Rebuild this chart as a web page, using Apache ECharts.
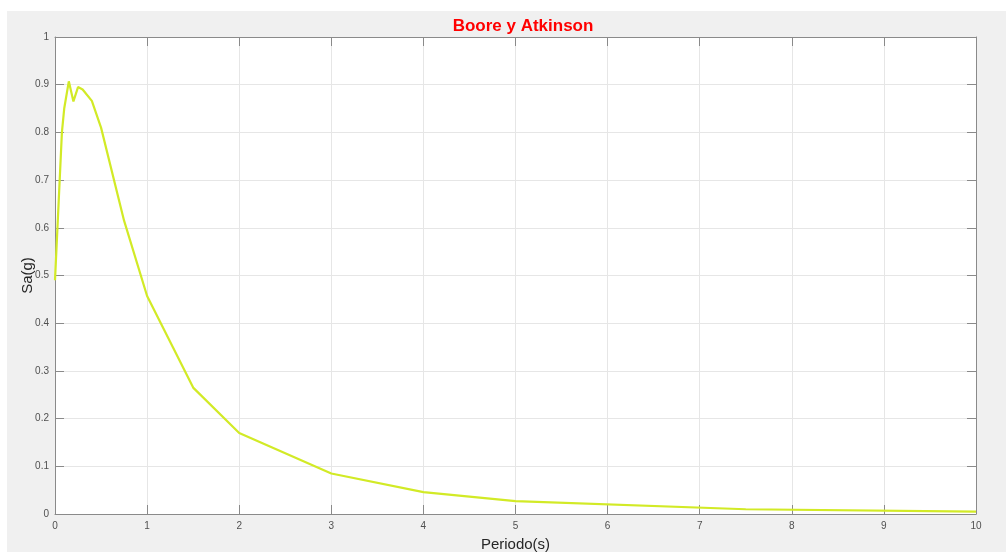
<!DOCTYPE html>
<html>
<head>
<meta charset="utf-8">
<script src="https://cdn.jsdelivr.net/npm/echarts@6/dist/echarts.min.js"></script>
<style>
  html, body { margin: 0; padding: 0; background: #ffffff; }
  #chart { width: 1006px; height: 552px; }
</style>
</head>
<body>
<div id="chart"></div>
<script>
// Spectral acceleration vs. period (Boore & Atkinson)
const periods = [0, 0.075, 0.1, 0.15, 0.2, 0.25, 0.3, 0.4, 0.5, 0.75, 1, 1.5, 2, 3, 4, 5, 7.5, 10];
const sa      = [0.49, 0.80, 0.85, 0.907, 0.865, 0.895, 0.89, 0.866, 0.81, 0.615, 0.457, 0.265, 0.17, 0.085, 0.046, 0.027, 0.010, 0.005];
const xTicks  = [0, 1, 2, 3, 4, 5, 6, 7, 8, 9, 10];
const yTicks  = [0, 0.1, 0.2, 0.3, 0.4, 0.5, 0.6, 0.7, 0.8, 0.9, 1];

const axisColor = '#8a8a8a';
const gridColor = '#e6e6e6';
const labelColor = '#505050';
const font = 'Liberation Sans, Arial, Helvetica, sans-serif';

const chart = echarts.init(document.getElementById('chart'), null, { renderer: 'canvas' });

const baseX = {
  type: 'value', min: xTicks[0], max: xTicks[xTicks.length - 1], interval: 1,
  axisLine: { show: true, onZero: false, lineStyle: { color: axisColor, width: 1 } },
  axisTick: { show: true, inside: true, length: 9, lineStyle: { color: axisColor } },
  splitLine: { show: false }
};
const baseY = {
  type: 'value', min: yTicks[0], max: yTicks[yTicks.length - 1], interval: 0.1,
  axisLine: { show: true, onZero: false, lineStyle: { color: axisColor, width: 1 } },
  axisTick: { show: true, inside: true, length: 9, lineStyle: { color: axisColor } },
  splitLine: { show: false }
};

chart.setOption({
  animation: false,
  backgroundColor: '#ffffff',
  graphic: [{
    type: 'rect', left: 7, top: 11, z: -10, silent: true,
    shape: { width: 999, height: 541 },
    style: { fill: '#f0f0f0' }
  }],
  title: {
    text: 'Boore y Atkinson',
    left: 518, top: 13, textAlign: 'center',
    textStyle: { color: '#ff0000', fontSize: 17, fontWeight: 'bold', fontFamily: font }
  },
  grid: {
    left: 55, top: 37, right: 30, bottom: 38,
    outerBoundsMode: 'none', containLabel: false,
    show: true, backgroundColor: '#ffffff', borderWidth: 0
  },
  xAxis: [
    Object.assign({}, baseX, {
      position: 'bottom',
      name: 'Periodo(s)', nameLocation: 'middle', nameGap: 23, nameMoveOverlap: false,
      nameTextStyle: { color: '#262626', fontSize: 15, fontFamily: font },
      axisLabel: { color: labelColor, fontSize: 10, fontFamily: font, margin: 7 },
      splitLine: { show: true, lineStyle: { color: gridColor, width: 1 } }
    }),
    Object.assign({}, baseX, { position: 'top', axisLabel: { show: false } })
  ],
  yAxis: [
    Object.assign({}, baseY, {
      position: 'left',
      name: 'Sa(g)', nameLocation: 'middle', nameGap: 20, nameMoveOverlap: false,
      nameTextStyle: { color: '#262626', fontSize: 15, fontFamily: font },
      axisLabel: {
        color: labelColor, fontSize: 10, fontFamily: font, margin: 6,
        formatter: v => String(Math.round(v * 10) / 10)
      },
      splitLine: { show: true, lineStyle: { color: gridColor, width: 1 } }
    }),
    Object.assign({}, baseY, { position: 'right', axisLabel: { show: false } })
  ],
  series: [{
    type: 'line',
    data: periods.map((p, i) => [p, sa[i]]),
    symbol: 'none',
    lineStyle: { color: '#d2ea26', width: 2.2 },
    z: 5
  }]
});
</script>
</body>
</html>
